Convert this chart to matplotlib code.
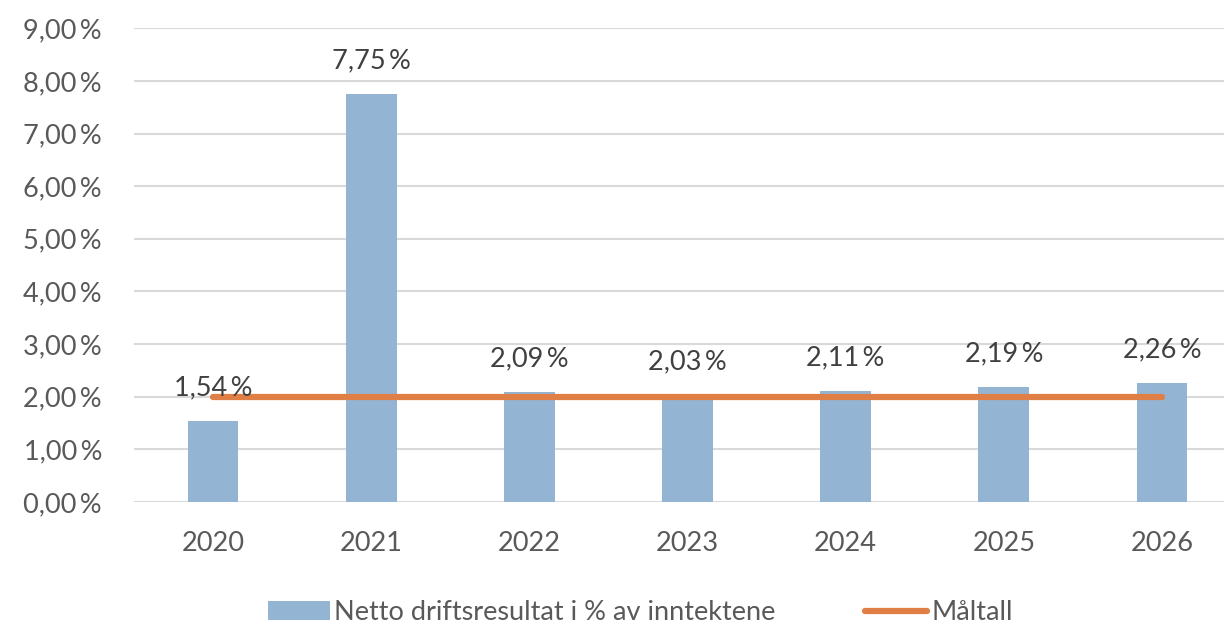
import matplotlib

matplotlib.use("Agg")

import matplotlib.pyplot as plt
from matplotlib.lines import Line2D
from matplotlib.patches import Patch

# --------------------------------------------------------------------------- #
# Data
# --------------------------------------------------------------------------- #

years = ["2020", "2021", "2022", "2023", "2024", "2025", "2026"]
netto_pct = [1.54, 7.75, 2.09, 2.03, 2.11, 2.19, 2.26]
maltall_pct = [2.0, 2.0, 2.0, 2.0, 2.0, 2.0, 2.0]
y_ticks = [0, 1, 2, 3, 4, 5, 6, 7, 8, 9]

_BAR = "#94b4d4"
_LINE = "#e07f45"
_TEXT = "#595959"
_GRID = "#d9d9d9"
_FS = 19.5

plt.rcParams["font.family"] = ["Lato", "DejaVu Sans"]


def pct(v):
    return f"{v:.2f}".replace(".", ",") + "\u2009%"


fig = plt.figure(figsize=(12.24, 6.29), dpi=100)
ax = fig.add_axes([0.1095, 0.202, 0.9044, 0.753])

x = list(range(len(years)))
ax.bar(x, netto_pct, width=0.32, color=_BAR, zorder=2)
ax.plot(x, maltall_pct, color=_LINE, linewidth=4.5, solid_capstyle="round", zorder=3)

for xi, v in zip(x, netto_pct):
    ax.annotate(pct(v), (xi, v), xytext=(0, 15), textcoords="offset points",
                ha="center", va="bottom", fontsize=_FS, color="#404040", zorder=4)

ax.set_xlim(-0.5, len(years) - 0.5)
ax.set_ylim(0, 9)
ax.set_yticks(y_ticks)
ax.set_yticklabels([pct(t) for t in y_ticks])
ax.set_xticks(x)
ax.set_xticklabels(years)
ax.tick_params(length=0, labelsize=_FS, labelcolor=_TEXT)
ax.tick_params(axis="x", pad=21)
ax.tick_params(axis="y", pad=23)
ax.grid(axis="y", color=_GRID, linewidth=1.5, zorder=0)
ax.set_axisbelow(True)
for s in ax.spines.values():
    s.set_visible(False)

handles = [
    Patch(facecolor=_BAR, label="Netto driftsresultat i % av inntektene"),
    Line2D([], [], color=_LINE, linewidth=4.5, solid_capstyle="round", label="Måltall"),
]
fig.legend(handles=handles, loc="center", bbox_to_anchor=(0.523, 0.026), ncol=2,
           frameon=False, fontsize=_FS, labelcolor=_TEXT, handlelength=2.3,
           handletextpad=0.15, columnspacing=3.3)

fig.savefig("out.png", dpi=100)
